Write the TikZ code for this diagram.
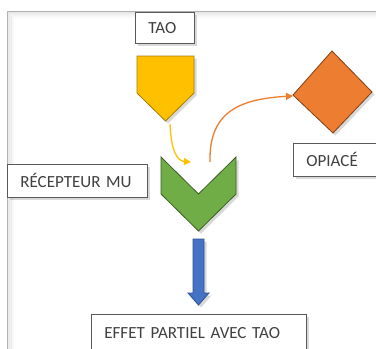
\documentclass[tikz,border=0pt]{standalone}
\usepackage{fontspec}
\setmainfont{Carlito}
\usetikzlibrary{shadows,arrows.meta}
\definecolor{txt}{HTML}{404040}
\definecolor{bord}{HTML}{595959}
\definecolor{yel}{HTML}{FFC000}
\definecolor{yelb}{HTML}{A67C00}
\definecolor{ora}{HTML}{ED7D31}
\definecolor{orab}{HTML}{7F3F10}
\definecolor{gre}{HTML}{70AD47}
\definecolor{greb}{HTML}{3A5E24}
\definecolor{blu}{HTML}{4472C4}
\definecolor{blub}{HTML}{2F528F}
\tikzset{
  shad/.style={drop shadow={opacity=0.3, shadow xshift=2.5pt, shadow yshift=-2.5pt}},
  lbox/.style={draw=bord, line width=0.8pt, fill=white, shad, rectangle, inner xsep=13pt, inner ysep=0pt,
     align=left, text=txt, font=\fontsize{17}{20}\selectfont},
  conn/.style={line width=1.3pt, -{Triangle[length=7pt,width=7pt]}},
}
\begin{document}
\begin{tikzpicture}[x=1pt,y=-1pt]
\useasboundingbox (0,0) rectangle (376,349);
\clip (0,0) rectangle (376,349);
\fill[white] (0,0) rectangle (376,349);
% outer frame with inner glow
\foreach \i/\o in {1/0.10,2/0.08,3/0.06,4/0.045,5/0.03,6/0.02} {
  \draw[black, opacity=\o, line width=1pt] (7+\i,11+\i) rectangle (390,360);
}
\draw[gray!60, line width=0.8pt] (7,11) rectangle (390,360);

% label boxes
\node[lbox, text width=33pt, minimum height=31pt, anchor=north west] (tao) at (135,12) {TAO};
\node[lbox, text width=114pt, minimum height=33pt, anchor=north west] (rec) at (7,164) {RÉCEPTEUR MU};
\node[lbox, text width=90pt, minimum height=33pt, anchor=north west] (opi) at (293,143) {OPIACÉ};
\node[lbox, text width=189pt, minimum height=38pt, anchor=north west] (eff) at (91,314) {EFFET PARTIEL AVEC TAO};

% yellow pentagon
\filldraw[fill=yel, draw=yelb, line width=0.8pt, shad] (137,56) -- (194,56) -- (194,93) -- (165.5,121) -- (137,93) -- cycle;
\coordinate (ytip) at (170,124);

% orange diamond
\filldraw[fill=ora, draw=orab, line width=0.8pt, shad] (332,51) -- (372,92) -- (333,133) -- (293,95) -- cycle;
\coordinate (dleft) at (293,96);

% green chevron
\filldraw[fill=gre, draw=greb, line width=0.8pt, shad] (161,157) -- (198.5,194) -- (236,157) -- (236,194) -- (198.5,231) -- (161,194) -- cycle;
\coordinate (cin) at (191,162);
\coordinate (cout) at (210,162);

% blue arrow
\filldraw[fill=blu, draw=blub, line width=0.8pt, shad] (193,239) -- (204,239) -- (204,293) -- (209,293) -- (198.5,305) -- (188,293) -- (193,293) -- cycle;

% connectors
\draw[conn, yel] (ytip) .. controls (171,150) and (177,161) .. (cin);
\draw[conn, ora] (cout) .. controls (209,115) and (235,99) .. (dleft);
\end{tikzpicture}
\end{document}
